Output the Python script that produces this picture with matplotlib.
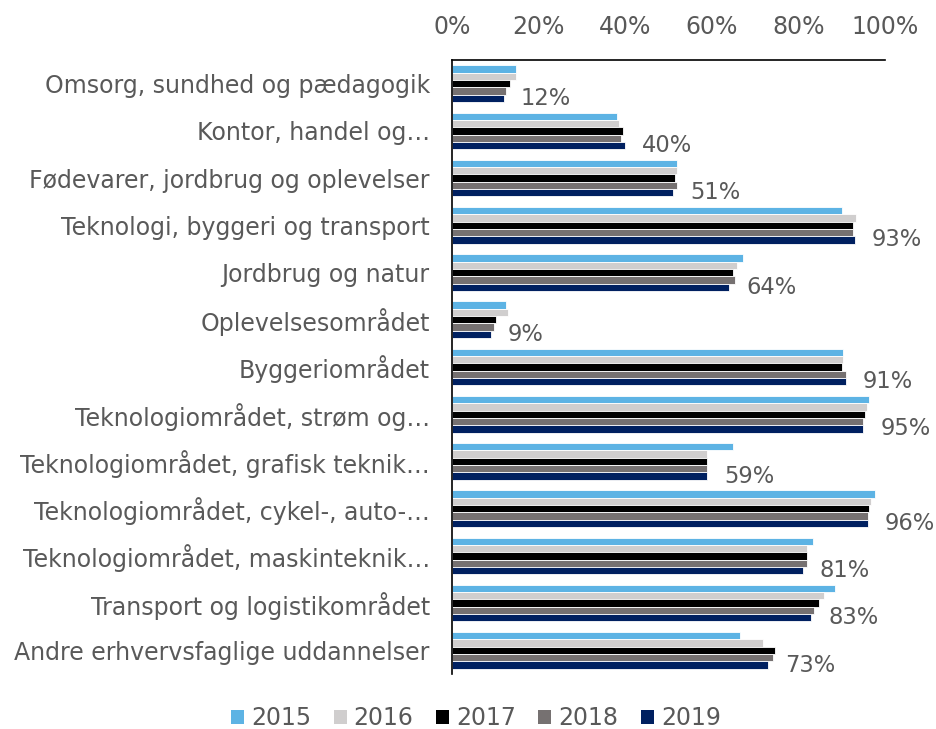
import matplotlib
matplotlib.use("Agg")
import matplotlib.pyplot as plt
from matplotlib.patches import Patch
import numpy as np

categories = [
    "Omsorg, sundhed og pædagogik",
    "Kontor, handel og…",
    "Fødevarer, jordbrug og oplevelser",
    "Teknologi, byggeri og transport",
    "Jordbrug og natur",
    "Oplevelsesområdet",
    "Byggeriområdet",
    "Teknologiområdet, strøm og…",
    "Teknologiområdet, grafisk teknik…",
    "Teknologiområdet, cykel-, auto-…",
    "Teknologiområdet, maskinteknik…",
    "Transport og logistikområdet",
    "Andre erhvervsfaglige uddannelser",
]

years = ["2015", "2016", "2017", "2018", "2019"]

v2015 = [14.8, 38.0, 52.0, 90.0, 67.2, 12.5, 90.4, 96.3, 65.0, 97.7, 83.3, 88.5, 66.4]
v2016 = [14.8, 38.5, 52.0, 93.2, 65.8, 13.0, 90.4, 95.9, 59.0, 96.8, 82.0, 85.8, 71.9]
v2017 = [13.4, 39.5, 51.5, 92.6, 64.9, 10.2, 90.0, 95.4, 59.0, 96.3, 82.0, 84.8, 74.7]
v2018 = [12.4, 39.0, 52.0, 92.6, 65.4, 9.7, 91.0, 95.0, 59.0, 96.0, 82.0, 83.5, 74.2]
v2019 = [12, 40, 51, 93, 64, 9, 91, 95, 59, 96, 81, 83, 73]

series = [v2015, v2016, v2017, v2018, v2019]
colors = ["#5DB3E4", "#D0CECE", "#000000", "#767171", "#002060"]
text_color = "#595959"

plt.rcParams["font.family"] = ["DejaVu Sans"]

fig = plt.figure(figsize=(9.36, 7.29), dpi=100)
ax = fig.add_axes([452 / 936, 1 - 674 / 729, 433 / 936, 614 / 729])

y = np.arange(len(categories))
bar_h = 0.155
for i, (vals, c) in enumerate(zip(series, colors)):
    offs = (i - 2) * bar_h
    ax.barh(y + offs, vals, height=bar_h, color=c, edgecolor="white",
            linewidth=0.6, label=years[i])

# value labels for the latest year
for yi, v in zip(y, v2019):
    ax.annotate(f"{v}%", xy=(v, yi + 2 * bar_h), xytext=(17, 0),
                textcoords="offset pixels", ha="left", va="center",
                fontsize=16.3, color=text_color)

ax.set_xlim(0, 100)
ax.set_ylim(len(categories) - 0.5, -0.5)
ax.set_xticks(np.arange(0, 101, 20))
ax.set_xticklabels([f"{t}%" for t in range(0, 101, 20)])
ax.xaxis.tick_top()
ax.set_yticks(y)
ax.set_yticklabels(categories)
ax.tick_params(axis="x", length=0, pad=15, labelsize=17, colors=text_color)
ax.tick_params(axis="y", length=0, pad=16, labelsize=17, colors=text_color)

for s in ["right", "bottom"]:
    ax.spines[s].set_visible(False)
for s in ["left", "top"]:
    ax.spines[s].set_color("black")
    ax.spines[s].set_linewidth(1.2)

handles = [Patch(facecolor=c, edgecolor="none") for c in colors]
fig.legend(handles, years, loc="center", bbox_to_anchor=(0.5085, 0.015),
           ncol=5, frameon=False, fontsize=17, labelcolor=text_color,
           handlelength=0.55, handleheight=0.55, handletextpad=0.3,
           columnspacing=0.95)

fig.savefig("out.png", dpi=100)
